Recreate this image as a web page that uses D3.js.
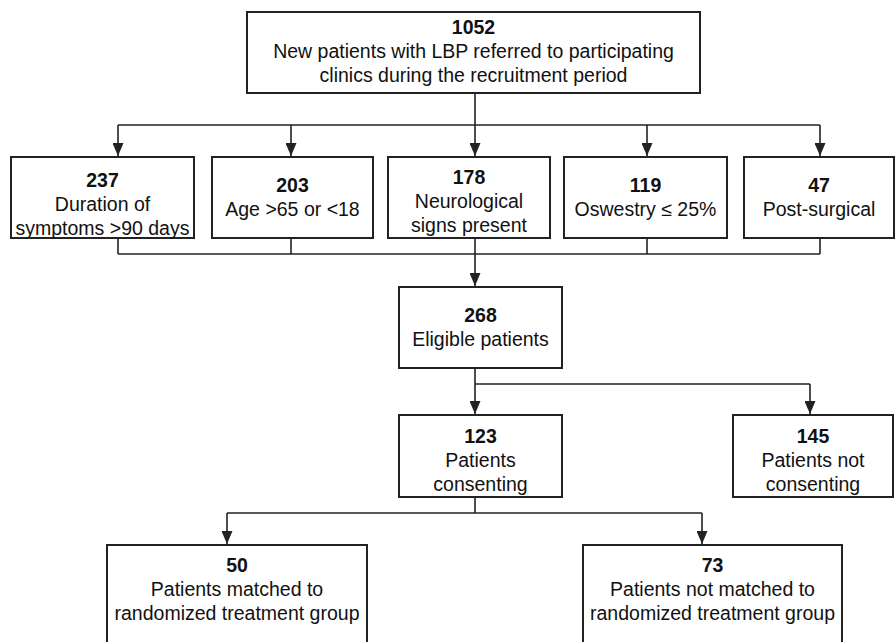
<!DOCTYPE html>
<html>
<head>
<meta charset="utf-8">
<script src="https://cdn.jsdelivr.net/npm/d3@7"></script>
<style>
  body { margin: 0; background: #fff; }
  text { font-family: "Liberation Sans", Arial, sans-serif; fill: #111; }
</style>
</head>
<body>
<div id="viz-container"></div>
<script>
// patient counts, one per box
let counts = ["1052", "237", "203", "178", "119", "47", "268", "123", "145", "50", "73"];

// description lines under each count
let descriptions = [
    ["New patients with LBP referred to participating", "clinics during the recruitment period"],
    ["Duration of", "symptoms >90 days"],
    ["Age >65 or <18"],
    ["Neurological", "signs present"],
    ["Oswestry \u2264 25%"],
    ["Post-surgical"],
    ["Eligible patients"],
    ["Patients", "consenting"],
    ["Patients not", "consenting"],
    ["Patients matched to", "randomized treatment group"],
    ["Patients not matched to", "randomized treatment group"]
];

// links between boxes (from index -> to index)
let links = [[0, 1], [0, 2], [0, 3], [0, 4], [0, 5], [1, 6], [2, 6], [3, 6], [4, 6], [5, 6], [6, 7], [6, 8], [7, 9], [7, 10]];

// layout of the boxes: x0, x1, y0, y1, first baseline offset, anchor x for connectors
let layout = [
    {x0: 247, x1: 700, y0: 12, y1: 93, pad: 22, ax: 475},
    {x0: 11, x1: 194, y0: 157, y1: 238, pad: 30, ax: 118},
    {x0: 212, x1: 373, y0: 157, y1: 238, pad: 35, ax: 291},
    {x0: 388, x1: 550, y0: 157, y1: 238, pad: 27, ax: 475},
    {x0: 564, x1: 727, y0: 157, y1: 238, pad: 35, ax: 647},
    {x0: 744, x1: 894, y0: 157, y1: 238, pad: 35, ax: 820},
    {x0: 399, x1: 562, y0: 287, y1: 368, pad: 35, ax: 475},
    {x0: 399, x1: 562, y0: 415, y1: 497, pad: 28, ax: 475},
    {x0: 733, x1: 893, y0: 415, y1: 497, pad: 28, ax: 810},
    {x0: 107, x1: 367, y0: 545, y1: 660, pad: 27, ax: 227},
    {x0: 583, x1: 842, y0: 545, y1: 660, pad: 27, ax: 702}
];

let lineGap = 24;
let fontSize = 19.5;
let stroke = "#222";

let viz = d3.select("#viz-container")
    .append("svg")
        .attr("width", 896)
        .attr("height", 642)
        .style("background-color", "white");

// arrowhead drawn along +x so orient=auto turns it with the line
viz.append("defs").append("marker")
    .attr("id", "arrow")
    .attr("viewBox", "0 0 13 11")
    .attr("refX", 13)
    .attr("refY", 5.5)
    .attr("markerWidth", 13)
    .attr("markerHeight", 11)
    .attr("markerUnits", "userSpaceOnUse")
    .attr("orient", "auto")
  .append("path")
    .attr("d", "M0,0 L13,5.5 L0,11 Z")
    .attr("fill", stroke);

let nodes = counts.map(function(c, i){
    return {count: c, lines: descriptions[i], box: layout[i]};
});

let lineGroup = viz.append("g")
    .attr("fill", "none")
    .attr("stroke", stroke)
    .attr("stroke-width", 1.6);

// group links by parent, and by child for fan-ins
let byParent = d3.group(links, function(d){ return d[0]; });
let byChild = d3.group(links, function(d){ return d[1]; });
let fanIn = new Set();
byChild.forEach(function(ls, child){ if (ls.length > 1) fanIn.add(child); });

// bus heights for each split / merge
let busYs = {0: 125, 6: 384, 7: 513, merge: 254};

byParent.forEach(function(ls, parent){
    let p = nodes[parent].box;
    if (ls.some(function(d){ return fanIn.has(d[1]); })) return; // drawn with the child below
    let childBoxes = ls.map(function(d){ return nodes[d[1]].box; });
    let busY = busYs[parent];
    let xs = childBoxes.map(function(b){ return b.ax; }).concat([p.ax]);
    lineGroup.append("line")
        .attr("x1", p.ax).attr("x2", p.ax)
        .attr("y1", p.y1).attr("y2", busY);
    lineGroup.append("line")
        .attr("x1", d3.min(xs)).attr("x2", d3.max(xs))
        .attr("y1", busY).attr("y2", busY);
    childBoxes.forEach(function(b){
        lineGroup.append("line")
            .attr("x1", b.ax).attr("x2", b.ax)
            .attr("y1", busY).attr("y2", b.y0 - 1)
            .attr("marker-end", "url(#arrow)");
    });
});

byChild.forEach(function(ls, child){
    if (ls.length < 2) return;
    let c = nodes[child].box;
    let parentBoxes = ls.map(function(d){ return nodes[d[0]].box; });
    let busY = busYs.merge;
    let xs = parentBoxes.map(function(b){ return b.ax; });
    parentBoxes.forEach(function(b){
        lineGroup.append("line")
            .attr("x1", b.ax).attr("x2", b.ax)
            .attr("y1", b.y1).attr("y2", busY);
    });
    lineGroup.append("line")
        .attr("x1", d3.min(xs)).attr("x2", d3.max(xs))
        .attr("y1", busY).attr("y2", busY);
    lineGroup.append("line")
        .attr("x1", c.ax).attr("x2", c.ax)
        .attr("y1", busY).attr("y2", c.y0 - 1)
        .attr("marker-end", "url(#arrow)");
});

// boxes
let boxes = viz.selectAll("g.box").data(nodes).enter().append("g")
    .attr("class", "box");

boxes.append("rect")
    .attr("x", function(d){ return d.box.x0; })
    .attr("y", function(d){ return d.box.y0; })
    .attr("width", function(d){ return d.box.x1 - d.box.x0; })
    .attr("height", function(d){ return d.box.y1 - d.box.y0; })
    .attr("fill", "white")
    .attr("stroke", stroke)
    .attr("stroke-width", 2);

boxes.append("text")
    .attr("x", function(d){ return (d.box.x0 + d.box.x1) / 2; })
    .attr("y", function(d){ return d.box.y0 + d.box.pad; })
    .attr("text-anchor", "middle")
    .attr("font-size", fontSize)
    .attr("font-weight", "bold")
    .text(function(d){ return d.count; });

boxes.each(function(d){
    d3.select(this).selectAll("text.desc").data(d.lines).enter().append("text")
        .attr("class", "desc")
        .attr("x", (d.box.x0 + d.box.x1) / 2)
        .attr("y", function(t, i){ return d.box.y0 + d.box.pad + lineGap * (i + 1); })
        .attr("text-anchor", "middle")
        .attr("font-size", fontSize)
        .text(function(t){ return t; });
});
</script>
</body>
</html>
